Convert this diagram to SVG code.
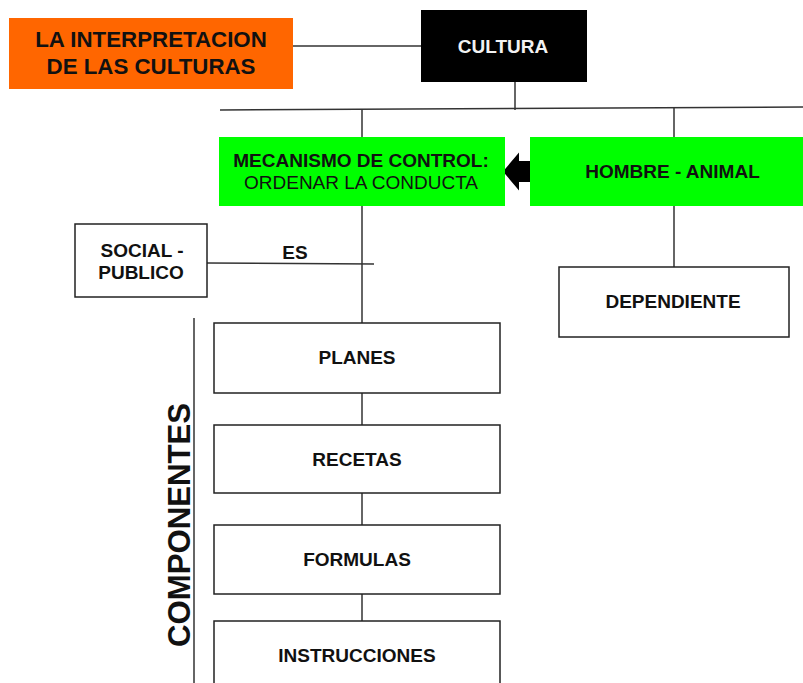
<svg xmlns="http://www.w3.org/2000/svg" width="803" height="683" viewBox="0 0 803 683">
<style>
  text { font-family: "Liberation Sans", Arial, sans-serif; text-anchor: middle; fill: #111; }
  .b { font-weight: bold; font-size: 19px; }
  .r { font-size: 19px; }
  .box { fill: #fff; stroke: #222; stroke-width: 1.5; }
  .green { fill: #00ff00; }
  .ln { stroke: #333; stroke-width: 1.5; fill: none; }
</style>
<rect width="803" height="683" fill="#fff"/>
<g id="connectors">
  <line class="ln" x1="293" y1="46" x2="421" y2="46"/>
  <line class="ln" x1="515" y1="82" x2="515" y2="110"/>
  <line class="ln" x1="220" y1="110" x2="803" y2="107"/>
  <line class="ln" x1="362" y1="110" x2="362" y2="137"/>
  <line class="ln" x1="674" y1="108" x2="674" y2="137"/>
  <line class="ln" x1="674" y1="206" x2="674" y2="267"/>
  <line class="ln" x1="362" y1="206" x2="362" y2="323"/>
  <line class="ln" x1="207" y1="263" x2="374" y2="264"/>
  <line class="ln" x1="362" y1="393" x2="362" y2="425"/>
  <line class="ln" x1="362" y1="493" x2="362" y2="525"/>
  <line class="ln" x1="362" y1="594" x2="362" y2="621"/>
  <line class="ln" x1="194" y1="318" x2="194" y2="683"/>
  <polygon points="503,171.5 519,152.5 519,161 532,161 532,182 519,182 519,190.5" fill="#000"/>
  <text class="b" x="295" y="259">ES</text>
</g>
<g id="interpretacion">
  <rect x="9" y="18" width="284" height="71" fill="#ff6600"/>
  <text x="151" y="47" font-weight="bold" font-size="22.3">LA INTERPRETACION</text>
  <text x="151" y="74" font-weight="bold" font-size="22.3">DE LAS CULTURAS</text>
</g>
<g id="cultura">
  <rect x="421" y="10" width="166" height="72" fill="#000"/>
  <text x="503" y="53" font-weight="bold" font-size="19" style="fill:#f2f2f2">CULTURA</text>
</g>
<g id="mecanismo">
  <rect class="green" x="219" y="137" width="286" height="69"/>
  <text class="b" x="361" y="166.5">MECANISMO DE CONTROL:</text>
  <text class="r" x="361" y="189">ORDENAR LA CONDUCTA</text>
</g>
<g id="hombre">
  <rect class="green" x="530" y="137" width="273" height="69"/>
  <text class="b" x="672.5" y="178">HOMBRE - ANIMAL</text>
</g>
<g id="dependiente">
  <rect class="box" x="559" y="267" width="230" height="70"/>
  <text class="b" x="673" y="308">DEPENDIENTE</text>
</g>
<g id="social">
  <rect class="box" x="75" y="224" width="132" height="73"/>
  <text class="b" x="142" y="257">SOCIAL -</text>
  <text class="b" x="141" y="279">PUBLICO</text>
</g>
<g id="componentes">
  <text transform="translate(190,525) rotate(-90)" font-weight="bold" font-size="31" textLength="244" lengthAdjust="spacingAndGlyphs">COMPONENTES</text>
</g>
<g id="planes">
  <rect class="box" x="214" y="323" width="286" height="70"/>
  <text class="b" x="357" y="364">PLANES</text>
</g>
<g id="recetas">
  <rect class="box" x="214" y="425" width="286" height="68"/>
  <text class="b" x="357" y="466">RECETAS</text>
</g>
<g id="formulas">
  <rect class="box" x="214" y="525" width="286" height="69"/>
  <text class="b" x="357" y="566">FORMULAS</text>
</g>
<g id="instrucciones">
  <rect class="box" x="214" y="621" width="286" height="70"/>
  <text class="b" x="357" y="662">INSTRUCCIONES</text>
</g>
</svg>
